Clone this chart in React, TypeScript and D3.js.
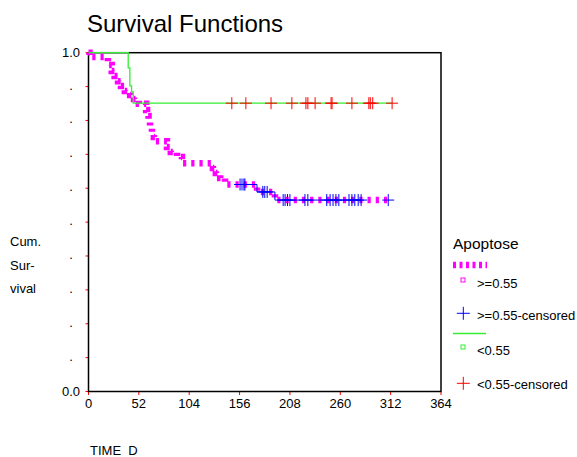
import React from "react";
import * as d3 from "d3";

// ---- data ----
const xTicks = [0, 52, 104, 156, 208, 260, 312, 364];
const yTicks = [0, 0.1, 0.2, 0.3, 0.4, 0.5, 0.6, 0.7, 0.8, 0.9, 1.0];
const yTickLabels = ["0.0", ".", ".", ".", ".", ".", ".", ".", ".", ".", "1.0"];

// Apoptose >= 0.55 : event times and survival after each event
const highTimes = [0, 1, 20, 24, 27, 30.5, 33.5, 37.5, 43, 47, 52, 59.5, 60.5, 62, 63.5, 65.5, 67.5, 69.5, 81, 85, 91.5, 96.5, 128.5, 131.5, 136, 141, 174, 192.5];
const highSurv = [1, 0.987, 0.964, 0.946, 0.931, 0.916, 0.902, 0.887, 0.875, 0.863, 0.849, 0.831, 0.813, 0.798, 0.781, 0.766, 0.751, 0.739, 0.722, 0.707, 0.692, 0.674, 0.66, 0.645, 0.63, 0.611, 0.589, 0.565];
const highCensored = [156.5, 158.5, 160.5, 161.5, 180, 182, 184.5, 201, 203, 205.5, 208, 223.5, 226.5, 246, 249.5, 252.5, 255.5, 258.5, 269, 272, 275, 278.5, 281.5, 309.5];

// Apoptose < 0.55
const lowTimes = [0, 41, 42.7, 44.5, 46.2];
const lowSurv = [1, 0.955, 0.902, 0.884, 0.851];
const lowCensored = [148, 162.5, 188.5, 210, 224.5, 226.5, 234, 250.5, 251.5, 272, 289.5, 291, 293.5, 313.5];

const legendLabels = [">=0.55", ">=0.55-censored", "<0.55", "<0.55-censored"];

const FONT = "'Liberation Sans', Arial, Helvetica, sans-serif";

function survAt(times: number[], surv: number[], t: number) {
  let v = surv[0];
  for (let i = 0; i < times.length; i++) if (times[i] <= t) v = surv[i];
  return v;
}

function stepPoints(times: number[], surv: number[], t0: number, t1: number): [number, number][] {
  const pts: [number, number][] = [[t0, survAt(times, surv, t0)]];
  times.forEach((t, i) => {
    if (t > t0 && t < t1) pts.push([t, surv[i]]);
  });
  pts.push([t1, survAt(times, surv, t1)]);
  return pts;
}

export default function App() {
  const W = 577, H = 457;
  const x = d3.scaleLinear().domain([0, 364]).range([88.5, 441]);
  const y = d3.scaleLinear().domain([0, 1]).range([391.5, 52.7]);
  const line = d3
    .line<[number, number]>()
    .x((d) => x(d[0]))
    .y((d) => y(d[1]))
    .curve(d3.curveStepAfter);

  const highEnd = d3.max(highCensored)!;
  const lowEnd = d3.max(lowCensored)!;
  const highPath = line(stepPoints(highTimes, highSurv, 0, highEnd))!;
  const lowPath = line(stepPoints(lowTimes, lowSurv, 0, lowEnd))!;
  const blueLinePath = line(stepPoints(highTimes, highSurv, highCensored[0], highCensored[highCensored.length - 2]))!;

  const plus = (cx: number, cy: number, s: number, color: string, key: string) => (
    <g key={key}>
      <line x1={cx - s} x2={cx + s} y1={cy} y2={cy} stroke={color} strokeWidth={1} />
      <line x1={cx} x2={cx} y1={cy - s} y2={cy + s} stroke={color} strokeWidth={1} />
    </g>
  );

  const magenta = "#ff00ff";
  const green = "#33ee33";
  const blue = "#0000ff";
  const red = "#ff0000";

  const lx = 453, ltx = 477;

  return (
    <svg width={W} height={H} style={{ position: "absolute", left: 0, top: 0, background: "#fff" }} fontFamily={FONT}>
      <rect x={0} y={0} width={W} height={H} fill="#fff" />
      <text x={87} y={32} fontSize={24} fill="#000">Survival Functions</text>

      {/* y axis title */}
      <text x={10} y={246} fontSize={13}>Cum.</text>
      <text x={10} y={269.5} fontSize={13}>Sur-</text>
      <text x={10} y={293} fontSize={13}>vival</text>

      {/* x axis title */}
      <text x={90} y={455} fontSize={13} style={{ whiteSpace: "pre" }}>TIME  D</text>

      {/* ticks */}
      {yTicks.map((t, i) => {
        const end = i === 0 || i === yTicks.length - 1;
        return (
          <g key={"yt" + i}>
            <line x1={85.5} x2={88} y1={y(t)} y2={y(t)} stroke={red} strokeWidth={1} />
            <text x={end ? 80 : 71} y={y(t) + (end ? 4.5 : 3)} fontSize={13} textAnchor={end ? "end" : "middle"}>
              {yTickLabels[i]}
            </text>
          </g>
        );
      })}
      {xTicks.map((t, i) => (
        <g key={"xt" + i}>
          <line x1={x(t)} x2={x(t)} y1={392} y2={395} stroke={red} strokeWidth={1} />
          <text x={x(t)} y={408} fontSize={13} textAnchor="middle">{t}</text>
        </g>
      ))}

      {/* frame */}
      <rect x={x(0)} y={y(1)} width={x(364) - x(0)} height={y(0) - y(1)} fill="none" stroke="#000" strokeWidth={1.5} />

      {/* curves */}
      <path d={highPath} fill="none" stroke={magenta} strokeWidth={6.5} strokeDasharray="3.2 5" />
      <path d={lowPath} fill="none" stroke={green} strokeWidth={1.3} />
      <path d={blueLinePath} fill="none" stroke={blue} strokeWidth={1} />
      {highCensored.map((t, i) => plus(x(t), y(survAt(highTimes, highSurv, t)), 6, blue, "hc" + i))}
      {lowCensored.map((t, i) => plus(x(t), y(survAt(lowTimes, lowSurv, t)), 6, red, "lc" + i))}

      {/* legend */}
      <text x={lx} y={249} fontSize={15.5}>Apoptose</text>
      <line x1={lx} x2={lx + 34} y1={265} y2={265} stroke={magenta} strokeWidth={6.5} strokeDasharray="3 3.5" />
      <rect x={461} y={278} width={4} height={4} fill="none" stroke={magenta} strokeWidth={1} />
      <text x={ltx} y={288} fontSize={13}>{legendLabels[0]}</text>
      {plus(463.3, 313.3, 6.5, blue, "lg1")}
      <text x={ltx} y={320} fontSize={13}>{legendLabels[1]}</text>
      <line x1={lx} x2={lx + 33} y1={333.5} y2={333.5} stroke={green} strokeWidth={1.3} />
      <rect x={461} y={345} width={4} height={4} fill="none" stroke={green} strokeWidth={1} />
      <text x={ltx} y={355} fontSize={13}>{legendLabels[2]}</text>
      {plus(463.3, 383.3, 6.5, red, "lg2")}
      <text x={ltx} y={388.5} fontSize={13}>{legendLabels[3]}</text>
    </svg>
  );
}
